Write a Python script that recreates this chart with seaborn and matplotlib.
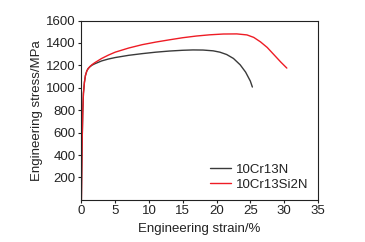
import numpy as np
import pandas as pd
import matplotlib
matplotlib.use("Agg")
import matplotlib.pyplot as plt
import seaborn as sns

# 10Cr13N
strain_a = [0, 0.05, 0.1, 0.2, 0.3, 0.45, 0.6, 0.8, 1.0, 1.3, 1.6, 2.0, 3.0, 4.0, 5.0, 7.0, 9.0, 11.0,
            13.0, 15.0, 16.5, 18.0, 19.5, 20.5, 21.5, 22.5, 23.5, 24.3, 25.0, 25.3]
stress_a = [0, 250, 480, 780, 950, 1050, 1110, 1150, 1172, 1190, 1203, 1215, 1240, 1257, 1270, 1290, 1305, 1318,
            1328, 1335, 1338, 1337, 1330, 1318, 1297, 1262, 1205, 1140, 1060, 1007]
# 10Cr13Si2N
strain_b = [0, 0.05, 0.1, 0.2, 0.3, 0.45, 0.6, 0.8, 1.0, 1.3, 1.6, 2.0, 3.0, 4.0, 5.0, 7.0, 9.0, 11.0,
            13.0, 15.0, 17.0, 19.0, 21.0, 23.0, 24.5, 25.5, 26.5, 27.5, 28.5, 29.5, 30.4]
stress_b = [0, 250, 480, 780, 950, 1050, 1110, 1150, 1172, 1192, 1208, 1225, 1262, 1292, 1318, 1355, 1385, 1408,
            1428, 1447, 1462, 1473, 1480, 1481, 1472, 1450, 1410, 1360, 1295, 1230, 1176]

df = pd.concat([
    pd.DataFrame({"strain": strain_a, "stress": stress_a, "steel": "10Cr13N"}),
    pd.DataFrame({"strain": strain_b, "stress": stress_b, "steel": "10Cr13Si2N"}),
])

sns.set_style("ticks")
plt.rcParams['font.family'] = ['Liberation Sans', 'DejaVu Sans']

fig = plt.figure(figsize=(3.65, 2.42), dpi=100)
ax = fig.add_axes([0.223, 0.174, 0.648, 0.741])

sns.lineplot(data=df, x="strain", y="stress", hue="steel", sort=False,
             palette={"10Cr13N": "#3a3a3a", "10Cr13Si2N": "#ee1c25"},
             linewidth=1.0, ax=ax)

ax.set_xlim(0, 35)
ax.set_ylim(0, 1600)
ax.set_xticks(range(0, 36, 5))
ax.set_yticks(range(200, 1601, 200))
ax.tick_params(labelsize=9.5, length=2.5, width=0.8, pad=1.5, color="#222222", labelcolor="#222222")
for s in ax.spines.values():
    s.set_linewidth(0.8)
    s.set_color("#222222")
ax.set_xlabel("Engineering strain/%", fontsize=9.5, color="#222222", labelpad=4)
ax.set_ylabel("Engineering stress/MPa", fontsize=9.5, color="#222222", labelpad=2)
leg = ax.legend(loc="lower right", frameon=False, fontsize=9.5, handlelength=1.6,
                handletextpad=0.4, labelspacing=0.2, borderaxespad=0.3)
for t in leg.get_texts():
    t.set_color("#222222")

fig.savefig("out.png", dpi=100)
